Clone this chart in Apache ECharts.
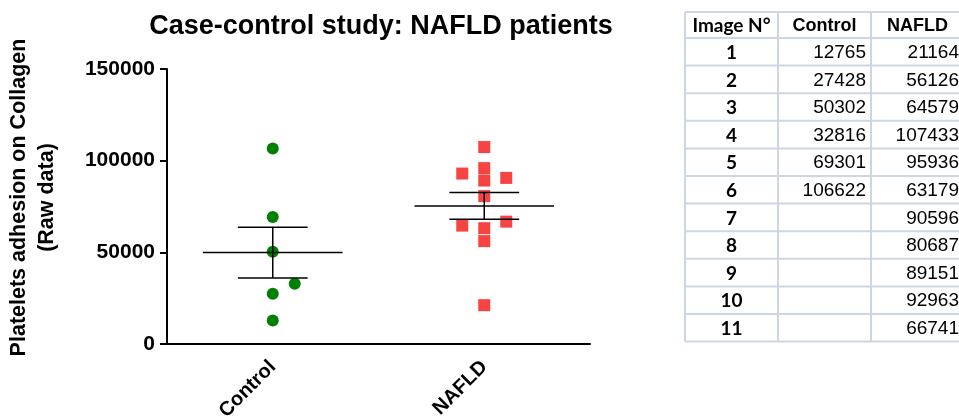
<!DOCTYPE html>
<html>
<head>
<meta charset="utf-8">
<script src="https://cdn.jsdelivr.net/npm/echarts@6/dist/echarts.min.js"></script>
<style>
  html, body { margin: 0; padding: 0; background: #fff; }
  #chart { width: 959px; height: 419px; }
</style>
</head>
<body>
<div id="chart"></div>
<script>
const categories = ['Control', 'NAFLD'];
const imageNumbers = [1, 2, 3, 4, 5, 6, 7, 8, 9, 10, 11];
const controlValues = [12765, 27428, 50302, 32816, 69301, 106622];
const nafldValues = [21164, 56126, 64579, 107433, 95936, 63179, 90596, 80687, 89151, 92963, 66741];
// side the point was nudged to in the dot plot (-1 left, 0 centre, 1 right)
const controlJitter = [0, 0, 0, 1, 0, 0];
const nafldJitter = [0, 0, -1, 0, 0, 0, 1, 0, 0, -1, 1];
const yTicks = [0, 50000, 100000, 150000];

const FONT = '"Liberation Sans", Arial, sans-serif';
const JITTER_PX = 22;

function meanSem(arr) {
    const n = arr.length;
    const m = arr.reduce((a, b) => a + b, 0) / n;
    const sd = Math.sqrt(arr.reduce((a, b) => a + (b - m) * (b - m), 0) / (n - 1));
    return [m, sd / Math.sqrt(n)];
}

function pointData(values, jitter, catIndex) {
    return values.map((v, i) => ({
        value: [catIndex, v],
        symbolOffset: [jitter[i] * JITTER_PX, 0]
    }));
}

const stats = [controlValues, nafldValues].map((arr, i) => [i].concat(meanSem(arr)));

// table drawn with graphic elements
function buildTable() {
    const left = 685, top = 12, headH = 26, rowH = 27.6;
    const cols = [685, 778, 871, 964];
    const gridColor = '#cdd6e3';
    const els = [];
    const bottom = top + headH + rowH * imageNumbers.length;
    const rowLines = [top, top + headH];
    imageNumbers.forEach((n, i) => rowLines.push(top + headH + rowH * (i + 1)));
    rowLines.forEach(y => els.push({
        type: 'line', shape: {x1: left, y1: y, x2: cols[3], y2: y},
        style: {stroke: gridColor, lineWidth: 2}
    }));
    cols.forEach(x => els.push({
        type: 'line', shape: {x1: x, y1: top, x2: x, y2: bottom},
        style: {stroke: gridColor, lineWidth: 2}
    }));
    const headY = top + headH / 2 + 1;
    els.push({type: 'text', x: (cols[0] + cols[1]) / 2, y: headY,
        style: {text: 'Image N°', fontFamily: 'Lato, "Open Sans", sans-serif', fontWeight: 'bold', fontSize: 19, fill: '#000', align: 'center', verticalAlign: 'middle'}});
    els.push({type: 'text', x: (cols[1] + cols[2]) / 2, y: headY,
        style: {text: 'Control', fontFamily: FONT, fontWeight: 'bold', fontSize: 18, fill: '#000', align: 'center', verticalAlign: 'middle'}});
    els.push({type: 'text', x: (cols[2] + cols[3]) / 2, y: headY,
        style: {text: 'NAFLD', fontFamily: FONT, fontWeight: 'bold', fontSize: 18, fill: '#000', align: 'center', verticalAlign: 'middle'}});
    imageNumbers.forEach((n, i) => {
        const y = top + headH + rowH * (i + 0.5) + 1;
        els.push({type: 'text', x: (cols[0] + cols[1]) / 2, y: y,
            style: {text: String(n), fontFamily: 'Lato, "Open Sans", sans-serif', fontWeight: 'bold', fontSize: 19, fill: '#000', align: 'center', verticalAlign: 'middle'}});
        if (controlValues[i] !== undefined) {
            els.push({type: 'text', x: cols[2] - 5, y: y,
                style: {text: String(controlValues[i]), fontFamily: FONT, fontSize: 19, fill: '#000', align: 'right', verticalAlign: 'middle'}});
        }
        if (nafldValues[i] !== undefined) {
            els.push({type: 'text', x: cols[3] - 5, y: y,
                style: {text: String(nafldValues[i]), fontFamily: FONT, fontSize: 19, fill: '#000', align: 'right', verticalAlign: 'middle'}});
        }
    });
    return els;
}

const chart = echarts.init(document.getElementById('chart'));

chart.setOption({
    animation: false,
    backgroundColor: '#fff',
    title: {
        text: 'Case-control study: NAFLD patients',
        left: 376,
        textAlign: 'center',
        top: 8,
        textStyle: {fontFamily: FONT, fontWeight: 'bold', fontSize: 27, color: '#000'}
    },
    grid: {left: 167, right: 369, top: 69, bottom: 75, containLabel: false, outerBoundsMode: 'none'},
    xAxis: {
        type: 'category',
        data: categories,
        boundaryGap: true,
        axisLine: {lineStyle: {color: '#000', width: 2}},
        axisTick: {alignWithLabel: true, length: 8, lineStyle: {color: '#000', width: 2}},
        axisLabel: {rotate: 45, margin: 20, color: '#000', fontFamily: FONT, fontWeight: 'bold', fontSize: 20},
        splitLine: {show: false}
    },
    yAxis: {
        type: 'value',
        min: yTicks[0],
        max: yTicks[yTicks.length - 1],
        interval: yTicks[1] - yTicks[0],
        name: 'Platelets adhesion on Collagen\n(Raw data)',
        nameLocation: 'middle',
        nameRotate: 90,
        nameGap: 106,
        nameTextStyle: {fontFamily: FONT, fontWeight: 'bold', fontSize: 21.5, color: '#000', lineHeight: 28, padding: [0, 0, 0, 18]},
        axisLine: {show: true, lineStyle: {color: '#000', width: 2}},
        axisTick: {show: true, length: 7, lineStyle: {color: '#000', width: 2}},
        axisLabel: {margin: 12, color: '#000', fontFamily: FONT, fontWeight: 'bold', fontSize: 21,
            formatter: v => String(v)},
        splitLine: {show: false}
    },
    series: [
        {
            name: 'Control',
            type: 'scatter',
            symbol: 'circle',
            symbolSize: 12,
            itemStyle: {color: '#008000', opacity: 1},
            data: pointData(controlValues, controlJitter, 0),
            z: 2
        },
        {
            name: 'NAFLD',
            type: 'scatter',
            symbol: 'rect',
            symbolSize: 12,
            itemStyle: {color: '#f84343', opacity: 1},
            data: pointData(nafldValues, nafldJitter, 1),
            z: 2
        },
        {
            name: 'Mean ± SEM',
            type: 'custom',
            data: stats,
            encode: {x: 0, y: 1},
            z: 5,
            renderItem: function (params, api) {
                const x = api.value(0), m = api.value(1), s = api.value(2);
                const c = api.coord([x, m]);
                const hi = api.coord([x, m + s]);
                const lo = api.coord([x, m - s]);
                const band = api.size([1, 0])[0];
                const mw = band * 0.33, cw = band * 0.165;
                const st = {stroke: '#000', lineWidth: 1.5};
                return {
                    type: 'group',
                    children: [
                        {type: 'line', shape: {x1: c[0] - mw, y1: c[1], x2: c[0] + mw, y2: c[1]}, style: st},
                        {type: 'line', shape: {x1: c[0], y1: hi[1], x2: c[0], y2: lo[1]}, style: st},
                        {type: 'line', shape: {x1: c[0] - cw, y1: hi[1], x2: c[0] + cw, y2: hi[1]}, style: st},
                        {type: 'line', shape: {x1: c[0] - cw, y1: lo[1], x2: c[0] + cw, y2: lo[1]}, style: st}
                    ]
                };
            }
        }
    ],
    graphic: buildTable()
});
</script>
</body>
</html>
